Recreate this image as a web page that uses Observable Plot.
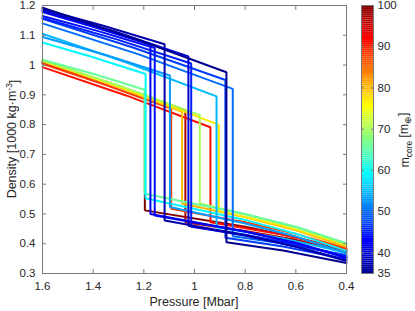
<!DOCTYPE html>
<html><head><meta charset="utf-8">
<script src="https://cdn.jsdelivr.net/npm/d3@7"></script>
<script src="https://cdn.jsdelivr.net/npm/@observablehq/plot@0.6"></script>
<style>
body{margin:0;background:#fff;}
#wrap{display:flex;width:415px;height:311px;overflow:hidden;}
#wrap svg{display:block;}
</style></head><body><div id="wrap"></div>
<script>
// ---- data ----
const xTicks = [1.6, 1.4, 1.2, 1, 0.8, 0.6, 0.4];
const xTickLabels = ["1.6", "1.4", "1.2", "1", "0.8", "0.6", "0.4"];
const yTicks = [0.3, 0.4, 0.5, 0.6, 0.7, 0.8, 0.9, 1, 1.1, 1.2];
const yTickLabels = ["0.3", "0.4", "0.5", "0.6", "0.7", "0.8", "0.9", "1", "1.1", "1.2"];
const cbTicks = [35, 40, 50, 60, 70, 80, 90, 100];
const cbTickLabels = ["35", "40", "50", "60", "70", "80", "90", "100"];

const curveMass = [100, 97, 91, 88, 80, 77, 70, 66, 59, 55, 53, 50, 47, 45, 44, 42, 40, 37, 35];
const curvePressure = [
  [1.6, 1.4, 1.196, 1.196, 0.8, 0.6, 0.4],
  [1.6, 1.32, 1.036, 1.036, 0.8, 0.6, 0.4],
  [1.6, 1.27, 0.937, 0.937, 0.65, 0.4],
  [1.6, 1.35, 1.092, 1.092, 0.8, 0.6, 0.4],
  [1.6, 1.32, 1.049, 1.049, 0.8, 0.6, 0.4],
  [1.6, 1.25, 0.904, 0.904, 0.65, 0.4],
  [1.6, 1.29, 0.979, 0.979, 0.8, 0.6, 0.4],
  [1.6, 1.4, 1.197, 1.197, 0.8, 0.6, 0.4],
  [1.6, 1.4, 1.193, 1.193, 0.8, 0.6, 0.4],
  [1.6, 1.26, 0.913, 0.913, 0.65, 0.4],
  [1.6, 1.35, 1.097, 1.097, 0.8, 0.6, 0.4],
  [1.6, 1.22, 0.849, 0.849, 0.65, 0.4],
  [1.6, 1.24, 0.878, 0.878, 0.65, 0.4],
  [1.6, 1.31, 1.013, 1.013, 0.8, 0.6, 0.4],
  [1.6, 1.38, 1.157, 1.157, 0.8, 0.6, 0.4],
  [1.6, 1.39, 1.174, 1.174, 0.8, 0.6, 0.4],
  [1.6, 1.31, 1.024, 1.024, 0.8, 0.6, 0.4],
  [1.6, 1.36, 1.118, 1.118, 0.8, 0.6, 0.4],
  [1.6, 1.24, 0.874, 0.874, 0.65, 0.4]
];
const curveDensity = [
  [1.010, 0.957, 0.898, 0.512, 0.457, 0.422, 0.377],
  [1.008, 0.933, 0.848, 0.472, 0.443, 0.413, 0.374],
  [0.993, 0.898, 0.791, 0.472, 0.430, 0.381],
  [1.004, 0.933, 0.854, 0.517, 0.472, 0.433, 0.384],
  [1.012, 0.933, 0.843, 0.535, 0.489, 0.445, 0.390],
  [1.015, 0.913, 0.799, 0.510, 0.460, 0.396],
  [1.016, 0.929, 0.832, 0.535, 0.498, 0.454, 0.399],
  [1.018, 0.971, 0.917, 0.568, 0.500, 0.457, 0.402],
  [1.076, 1.026, 0.970, 0.553, 0.480, 0.434, 0.376],
  [1.105, 1.006, 0.895, 0.455, 0.418, 0.370],
  [1.094, 1.034, 0.965, 0.523, 0.468, 0.424, 0.368],
  [1.140, 1.036, 0.920, 0.425, 0.401, 0.362],
  [1.155, 1.058, 0.950, 0.420, 0.391, 0.348],
  [1.158, 1.087, 1.005, 0.457, 0.430, 0.398, 0.358],
  [1.165, 1.114, 1.057, 0.495, 0.441, 0.403, 0.355],
  [1.178, 1.126, 1.068, 0.500, 0.441, 0.402, 0.352],
  [1.183, 1.111, 1.029, 0.460, 0.427, 0.391, 0.345],
  [1.188, 1.132, 1.070, 0.478, 0.429, 0.390, 0.342],
  [1.193, 1.090, 0.976, 0.405, 0.377, 0.335]
];

// ---- styling ----
const jetDomain = [35, 43.1, 59.4, 75.6, 91.9, 100];
const jetRange = ["#000090", "#0000ff", "#00ffff", "#ffff00", "#ff0000", "#800000"];
const FONT = "'Liberation Sans', Arial, Helvetica, sans-serif";
const AX = "#7a7a7a";
const TXT = "#262626";

const rows = [];
curveMass.forEach((m, i) => {
  curvePressure[i].forEach((p, j) => rows.push({id: i, m, P: p, D: curveDensity[i][j]}));
});

const colorOpts = {type: "linear", domain: jetDomain, range: jetRange};

const main = Plot.plot({
  width: 355, height: 311,
  marginLeft: 42, marginRight: 9, marginTop: 5, marginBottom: 38,
  style: {fontFamily: FONT, fontSize: "11.5px", color: TXT, background: "#fff"},
  x: {domain: [1.6, 0.4], label: null},
  y: {domain: [0.3, 1.2], label: null},
  color: colorOpts,
  marks: [
    Plot.line(rows, {x: "P", y: "D", z: "id", stroke: "m", strokeWidth: 2, strokeLinejoin: "miter"}),
    Plot.frame({stroke: AX}),
    Plot.axisX(xTicks, {anchor: "bottom", tickSize: -4, tickPadding: 12.5, stroke: AX, fill: TXT, label: null,
      tickFormat: d => xTickLabels[xTicks.indexOf(d)]}),
    Plot.axisX(xTicks, {anchor: "top", tickSize: -4, stroke: AX, label: null, tickFormat: () => ""}),
    Plot.axisY(yTicks, {anchor: "left", tickSize: -4, tickPadding: 11, stroke: AX, fill: TXT, label: null,
      tickFormat: d => yTickLabels[yTicks.indexOf(d)]}),
    Plot.axisY(yTicks, {anchor: "right", tickSize: -4, stroke: AX, label: null, tickFormat: () => ""})
  ]
});

const bands = d3.range(35, 100, 0.5);
const bar = Plot.plot({
  width: 60, height: 311,
  marginLeft: 6, marginRight: 42, marginTop: 5, marginBottom: 38,
  style: {fontFamily: FONT, fontSize: "11.5px", color: TXT, background: "#fff"},
  x: {domain: [0, 1], axis: null},
  y: {domain: [35, 100], label: null},
  color: colorOpts,
  marks: [
    Plot.rect(bands, {x1: 0, x2: 1, y1: d => d, y2: d => d + 0.5, fill: d => d + 0.25, inset: 0}),
    Plot.frame({stroke: AX}),
    Plot.axisY(cbTicks, {anchor: "right", tickSize: -3, tickPadding: 7, stroke: AX, fill: TXT, label: null,
      tickFormat: d => cbTickLabels[cbTicks.indexOf(d)]}),
    Plot.axisY(cbTicks, {anchor: "left", tickSize: -3, stroke: AX, label: null, tickFormat: () => ""})
  ]
});

document.getElementById("wrap").append(main, bar);

// axis titles with sub/superscripts
const ms = d3.select(main);
ms.append("text")
  .attr("x", 194).attr("y", 306)
  .attr("text-anchor", "middle")
  .attr("font-family", FONT).attr("font-size", "12.5px").attr("fill", TXT)
  .text("Pressure [Mbar]");
const yl = ms.append("text")
  .attr("transform", "translate(16,139) rotate(-90)")
  .attr("text-anchor", "middle")
  .attr("font-family", FONT).attr("font-size", "12.5px").attr("fill", TXT);
yl.append("tspan").text("Density [1000 kg\u00b7m");
yl.append("tspan").attr("dy", "-0.45em").attr("font-size", "8.5px").text("-3");
yl.append("tspan").attr("dy", "0.45em").text("]");

const bs = d3.select(bar);
const cl = bs.append("text")
  .attr("transform", "translate(54,140) rotate(-90)")
  .attr("text-anchor", "middle")
  .attr("font-family", FONT).attr("font-size", "12px").attr("fill", TXT);
cl.append("tspan").text("m");
cl.append("tspan").attr("dy", "0.3em").attr("font-size", "8.5px").text("core");
cl.append("tspan").attr("dy", "-0.3em").text(" [m");
cl.append("tspan").attr("dy", "0.3em").attr("font-size", "8.5px").text("\u2295");
cl.append("tspan").attr("dy", "-0.3em").text("]");
</script>
</body></html>
